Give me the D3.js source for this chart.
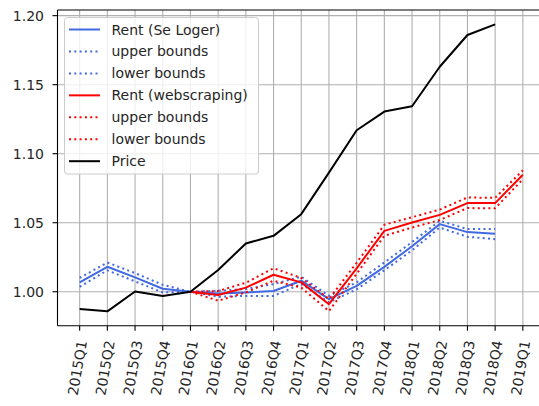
<!DOCTYPE html>
<html><head><meta charset="utf-8">
<script src="https://cdn.jsdelivr.net/npm/d3@7"></script>
<style>body{margin:0;background:#fff}svg{display:block}text{font-family:"DejaVu Sans",sans-serif;fill:#262626}</style>
</head><body><svg id="c" width="539" height="406"></svg>
<script>
const quarters = ["2015Q1","2015Q2","2015Q3","2015Q4","2016Q1","2016Q2","2016Q3","2016Q4","2017Q1","2017Q2","2017Q3","2017Q4","2018Q1","2018Q2","2018Q3","2018Q4","2019Q1"];
// Se Loger rent (2015Q1..2018Q4)
const seLoger      = [1.0068,1.0181,1.0104,1.0022,1.0000,0.9988,0.9995,1.0005,1.0080,0.9947,1.0043,1.0180,1.0330,1.0490,1.0432,1.0420];
const seLogerUpper = [1.0100,1.0212,1.0135,1.0050,1.0000,1.0007,1.0020,1.0055,1.0109,0.9970,1.0068,1.0212,1.0360,1.0514,1.0454,1.0454];
const seLogerLower = [1.0036,1.0155,1.0075,0.9995,1.0000,0.9964,0.9970,0.9970,1.0056,0.9923,1.0018,1.0155,1.0300,1.0465,1.0398,1.0381];
// Webscraping rent (2016Q1..2019Q1)
const web      = [1.0000,0.9976,1.0030,1.0123,1.0068,0.9910,1.0170,1.0441,1.0502,1.0557,1.0642,1.0642,1.0847];
const webUpper = [1.0000,1.0005,1.0065,1.0170,1.0100,0.9947,1.0210,1.0485,1.0540,1.0595,1.0683,1.0680,1.0880];
const webLower = [1.0000,0.9935,0.9995,1.0080,1.0030,0.9860,1.0130,1.0405,1.0465,1.0520,1.0606,1.0605,1.0815];
// Price (2015Q1..2018Q4)
const price = [0.9875,0.9858,1.0002,0.9970,1.0000,1.0157,1.0350,1.0405,1.0562,1.0863,1.1170,1.1305,1.1344,1.1630,1.1860,1.1937];
const yTicks = [1.00,1.05,1.10,1.15,1.20];

const svg = d3.select("#c");
const L = 57.5, R = 545, T = 10, B = 325.7;
const x = d3.scaleLinear().domain([-0.8, quarters.length - 1 + 0.8]).range([L, R]);
const all = [].concat(seLoger, seLogerUpper, seLogerLower, web, webUpper, webLower, price);
const mn = d3.min(all), mx = d3.max(all), pad = (mx - mn) * 0.05;
const y = d3.scaleLinear().domain([mn - pad, mx + pad]).range([B, T]);
const FS = 14;

// grid
const grid = svg.append("g");
quarters.forEach((q, i) => grid.append("line").attr("x1", x(i)).attr("x2", x(i)).attr("y1", T).attr("y2", B)
  .attr("stroke", "#b0b0b0").attr("stroke-width", 1.1));
yTicks.forEach(t => grid.append("line").attr("x1", L).attr("x2", R).attr("y1", y(t)).attr("y2", y(t))
  .attr("stroke", "#b0b0b0").attr("stroke-width", 1.1));

const line = d3.line().x(d => x(d.i)).y(d => y(d.v));
const LW = 2, DASH = "2,3.3";
function series(vals, offset, color, dotted) {
  const pts = vals.map((v, k) => ({i: k + offset, v}));
  const p = svg.append("path").attr("d", line(pts)).attr("fill", "none").attr("stroke", color)
    .attr("stroke-width", LW).attr("stroke-linejoin", "round");
  if (dotted) p.attr("stroke-dasharray", DASH);
}
const blue = "#4169e1", red = "#ff0000", black = "#000000";
series(seLoger, 0, blue, false);
series(seLogerUpper, 0, blue, true);
series(seLogerLower, 0, blue, true);
series(web, 4, red, false);
series(webUpper, 4, red, true);
series(webLower, 4, red, true);
series(price, 0, black, false);

// spines
const sp = (x1, y1, x2, y2) => svg.append("line").attr("x1", x1).attr("x2", x2).attr("y1", y1).attr("y2", y2).attr("stroke", "#000").attr("stroke-width", 1.1);
sp(L, T, L, B); sp(L, B, R, B); sp(L, T, R, T); sp(R, T, R, B);

// y axis ticks
yTicks.forEach(t => {
  svg.append("line").attr("x1", L - 5).attr("x2", L).attr("y1", y(t)).attr("y2", y(t)).attr("stroke", "#000").attr("stroke-width", 1.1);
  svg.append("text").attr("x", L - 13.5).attr("y", y(t)).attr("dy", "0.36em").attr("text-anchor", "end")
    .attr("font-size", FS).text(t.toFixed(2));
});
// x axis ticks
quarters.forEach((q, i) => {
  svg.append("line").attr("x1", x(i)).attr("x2", x(i)).attr("y1", B).attr("y2", B + 5).attr("stroke", "#000").attr("stroke-width", 1.1);
  svg.append("text").attr("transform", `translate(${x(i) + 2.5},${340.5}) rotate(-80)`)
    .attr("text-anchor", "end").attr("dy", "0.36em").attr("font-size", FS).text(q);
});

// legend
const legend = [
  {label: "Rent (Se Loger)", color: blue, dotted: false},
  {label: "upper bounds", color: blue, dotted: true},
  {label: "lower bounds", color: blue, dotted: true},
  {label: "Rent (webscraping)", color: red, dotted: false},
  {label: "upper bounds", color: red, dotted: true},
  {label: "lower bounds", color: red, dotted: true},
  {label: "Price", color: black, dotted: false}
];
const lg = svg.append("g");
lg.append("rect").attr("x", 64.5).attr("y", 17.5).attr("width", 194).attr("height", 156.5).attr("rx", 3)
  .attr("fill", "#fff").attr("fill-opacity", 0.8).attr("stroke", "#cccccc").attr("stroke-width", 1);
legend.forEach((d, k) => {
  const yy = 29.5 + k * 21.95;
  const l = lg.append("line").attr("x1", 69).attr("x2", 100).attr("y1", yy).attr("y2", yy)
    .attr("stroke", d.color).attr("stroke-width", LW);
  if (d.dotted) l.attr("stroke-dasharray", DASH);
  lg.append("text").attr("x", 111.5).attr("y", yy).attr("dy", "0.36em").attr("font-size", FS).text(d.label);
});
</script></body></html>
